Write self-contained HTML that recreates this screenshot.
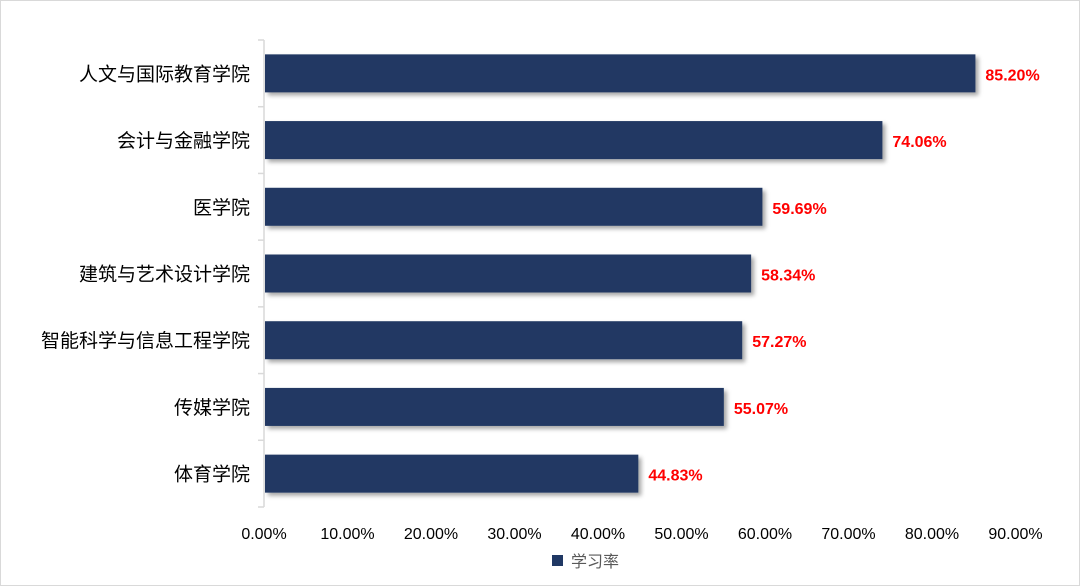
<!DOCTYPE html>
<html><head><meta charset="utf-8"><style>
body{margin:0;background:#fff;}
svg{display:block;font-family:"Liberation Sans","Noto Sans CJK SC",sans-serif;}
</style></head><body>
<svg id="c" width="1080" height="586">
<defs><filter id="sh" x="-5%" y="-20%" width="110%" height="150%"><feDropShadow dx="3" dy="3" stdDeviation="2" flood-color="#000" flood-opacity="0.35"/></filter></defs>
<rect x="0.5" y="0.5" width="1079" height="585" fill="#fff" stroke="#d9d9d9"/>
<g id="g"></g>
</svg>
<script>
const categories=["人文与国际教育学院","会计与金融学院","医学院","建筑与艺术设计学院","智能科学与信息工程学院","传媒学院","体育学院"];
const values=[85.20,74.06,59.69,58.34,57.27,55.07,44.83];
const ticks=[0,10,20,30,40,50,60,70,80,90];
const ns="http://www.w3.org/2000/svg";
const g=document.getElementById('g');
const x0=264,x1=1015.5,yTop=40,yBot=507;
const xs=v=>x0+(v/90)*(x1-x0);
const band=(yBot-yTop)/categories.length;
function mk(t,a){const e=document.createElementNS(ns,t);for(const k in a)e.setAttribute(k,a[k]);g.appendChild(e);return e;}
let ax=mk('line',{x1:x0,y1:yTop,x2:x0,y2:yBot,stroke:'#d9d9d9','stroke-width':1.5});


for(let i=0;i<=categories.length;i++){
 let t=mk('line',{x1:x0-6,y1:yTop+i*band,x2:x0,y2:yTop+i*band,stroke:'#d9d9d9','stroke-width':1.5});
 
 
}
categories.forEach((c,i)=>{
 const cy=yTop+band*(i+0.5);
 let r=mk('rect',{x:x0+1,y:cy-19,width:xs(values[i])-x0-1,height:38,fill:'#203864',filter:'url(#sh)'});
 
 
 let l=mk('text',{x:250,y:cy+7,'text-anchor':'end','font-size':19,fill:'#000'});l.textContent=c;
 
 
 let v=mk('text',{x:xs(values[i])+10,y:cy+7,'font-size':16,'font-weight':'bold',fill:'#ff0000'});v.textContent=values[i].toFixed(2)+'%';
 
 
});
ticks.forEach(t=>{
 let e=mk('text',{x:xs(t),y:539,'text-anchor':'middle','font-size':16,fill:'#000'});e.textContent=t.toFixed(2)+'%';
 
 
});
let lg=mk('rect',{x:552,y:555,width:11,height:11,fill:'#203864'});


let lt=mk('text',{x:571,y:567,'font-size':16,fill:'#595959'});lt.textContent='学习率';


</script>
</body></html>
